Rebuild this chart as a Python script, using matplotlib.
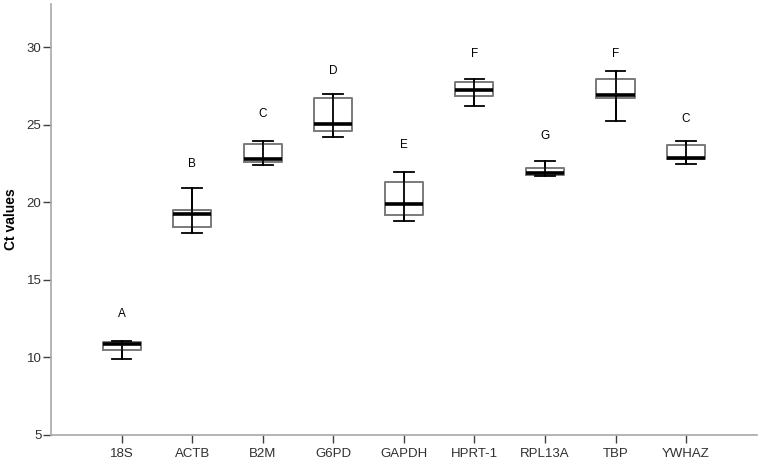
import matplotlib
matplotlib.use('Agg')
import matplotlib.pyplot as plt

plt.rcParams['font.family'] = ['Liberation Sans', 'DejaVu Sans']

genes = ['18S', 'ACTB', 'B2M', 'G6PD', 'GAPDH', 'HPRT-1', 'RPL13A', 'TBP', 'YWHAZ']
whislo = [9.9, 18.06, 22.42, 24.22, 18.83, 26.22, 21.7, 25.25, 22.5]
q1 = [10.46, 18.4, 22.6, 24.59, 19.2, 26.88, 21.8, 26.75, 22.78]
med = [10.9, 19.26, 22.8, 25.06, 19.92, 27.27, 21.9, 26.95, 22.89]
q3 = [11.0, 19.5, 23.77, 26.73, 21.34, 27.75, 22.24, 27.98, 23.7]
whishi = [11.05, 20.93, 23.96, 26.97, 21.95, 27.96, 22.7, 28.45, 23.96]
letters = ['A', 'B', 'C', 'D', 'E', 'F', 'G', 'F', 'C']
letter_y = [12.8, 22.5, 25.7, 28.5, 23.7, 29.6, 24.3, 29.6, 25.4]

stats = []
for i, g in enumerate(genes):
    stats.append({'label': g, 'whislo': whislo[i], 'q1': q1[i], 'med': med[i],
                  'q3': q3[i], 'whishi': whishi[i], 'fliers': []})

fig = plt.figure(figsize=(7.62, 4.61), dpi=100)
ax = fig.add_axes([0.067, 0.0564, 0.926, 0.935])

pos = list(range(1, len(genes) + 1))
# SPSS style: whisker line runs straight through the box
ax.vlines(pos, whislo, whishi, color='black', linewidth=1.3, zorder=1)
ax.bxp(stats, positions=pos, widths=0.54, showfliers=False,
       boxprops=dict(color='#7a7a7a', linewidth=1.4),
       medianprops=dict(color='black', linewidth=2.6),
       whiskerprops=dict(color='black', linewidth=1.3),
       capprops=dict(color='black', linewidth=1.3),
       capwidths=0.28)

for p, l, y in zip(pos, letters, letter_y):
    ax.text(p, y, l, ha='center', va='center', fontsize=8.5, color='black')

ax.set_xlim(0, 10)
ax.set_ylim(5, 32.8)
ax.set_yticks([5, 10, 15, 20, 25, 30])
ax.set_xticks(pos)
ax.set_xticklabels(genes)
ax.set_ylabel('Ct values', fontsize=10, fontweight='bold')
ax.yaxis.set_label_coords(-0.047, 0.5)

for s in ['top', 'right']:
    ax.spines[s].set_visible(False)
for s in ['left', 'bottom']:
    ax.spines[s].set_color('#a8a8a8')
    ax.spines[s].set_linewidth(1.2)
ax.tick_params(axis='both', colors='#404040', labelsize=9.5, length=6, width=1, direction='out')
ax.tick_params(axis='both', labelcolor='#303030')
ax.tick_params(axis='y', pad=1)

fig.savefig('out.png', dpi=100)
